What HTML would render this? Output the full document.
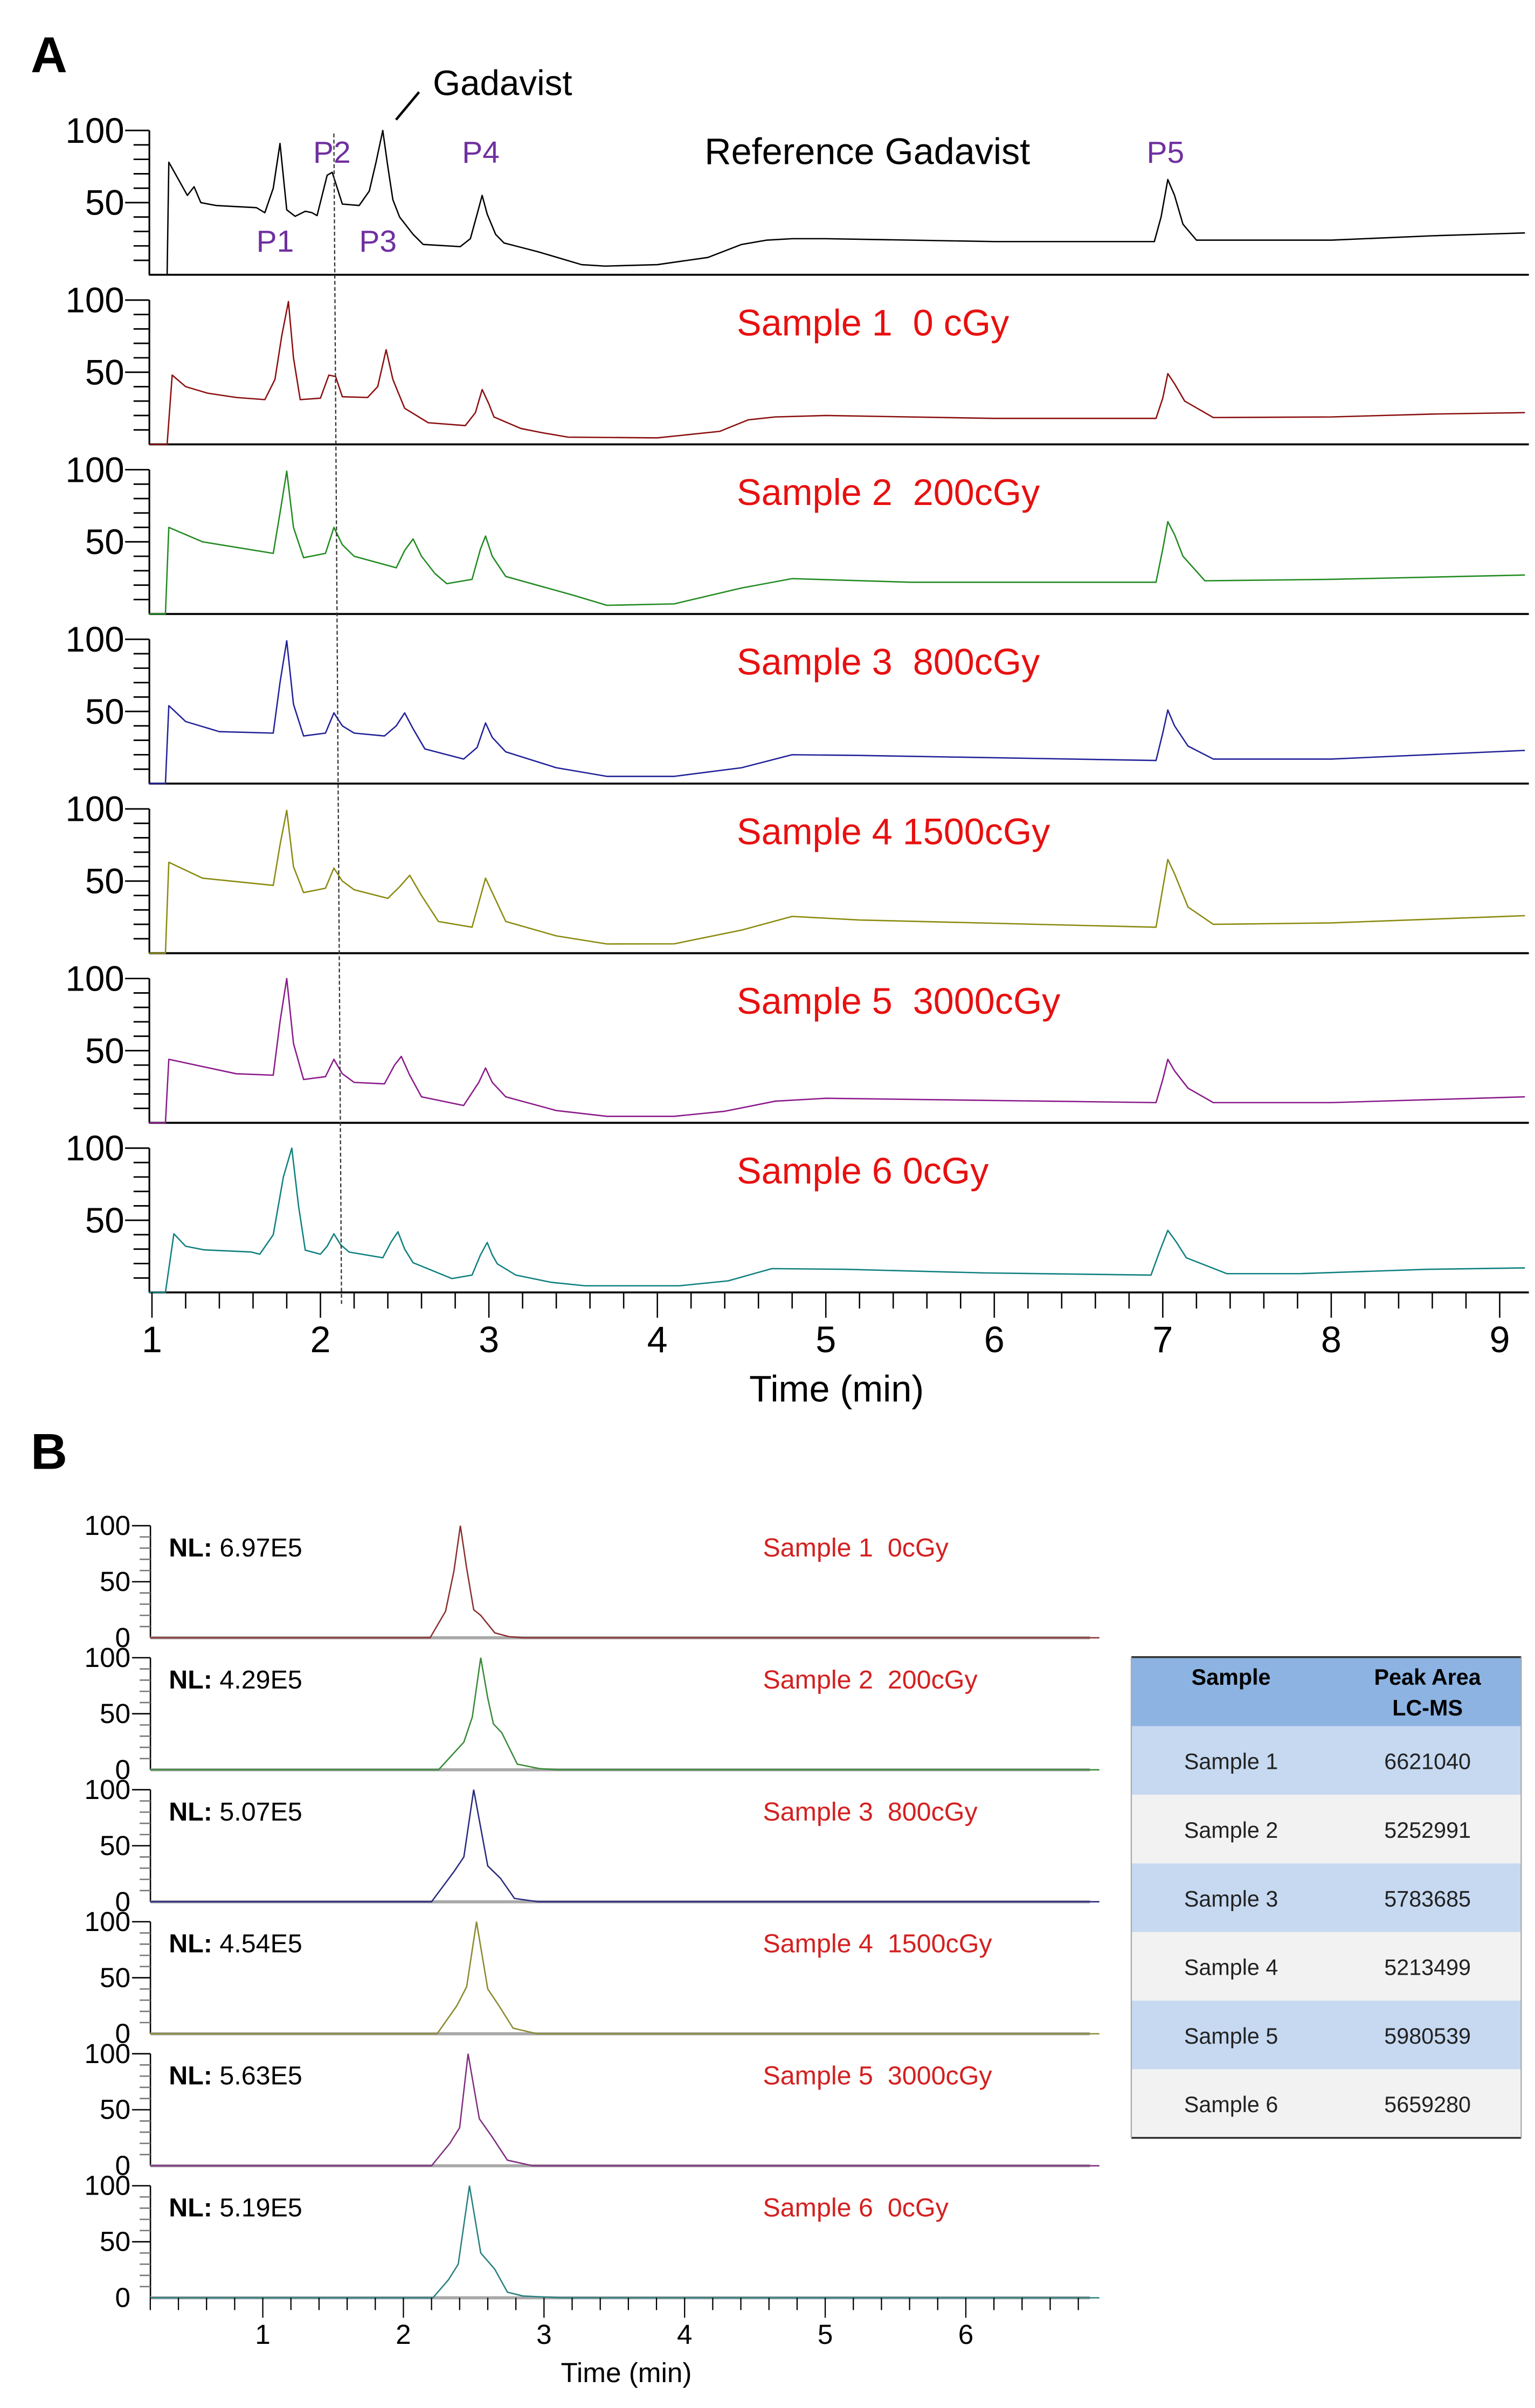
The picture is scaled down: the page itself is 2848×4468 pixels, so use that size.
<!DOCTYPE html>
<html><head><meta charset="utf-8"><style>
html,body{margin:0;padding:0;background:#fff;}
svg{display:block;}
text{font-family:"Liberation Sans",sans-serif;white-space:pre;}
</style></head>
<body>
<svg id="fig" xmlns="http://www.w3.org/2000/svg" width="2848" height="4468" viewBox="0 0 1000 1568.8" preserveAspectRatio="none">
<rect x="0" y="0" width="1000" height="1568.8" fill="#fff"/>
<g id="gA"></g>
<g id="gB"></g>
<g id="table"></g>
</svg>
<script>
// ---------- Panel A data (time in min, % intensity) ----------
const aNames = ["Reference Gadavist","Sample 1\u00a0\u00a00 cGy","Sample 2\u00a0\u00a0200cGy","Sample 3\u00a0\u00a0800cGy","Sample 4 1500cGy","Sample 5\u00a0\u00a03000cGy","Sample 6 0cGy"];
const aColors = ["#000000","#8b1010","#228b22","#22229a","#8b8b10","#8b1a8b","#108080"];
const refT = [0.98,1.09,1.10,1.21,1.25,1.29,1.38,1.62,1.67,1.72,1.76,1.80,1.85,1.91,1.95,1.98,2.04,2.07,2.10,2.13,2.23,2.29,2.33,2.37,2.40,2.43,2.47,2.55,2.61,2.83,2.89,2.93,2.96,2.99,3.04,3.09,3.19,3.29,3.55,3.69,4.0,4.3,4.5,4.65,4.8,5.0,6.0,6.95,6.99,7.03,7.07,7.12,7.2,8.0,8.6,9.15];
const refV = [0,0,78,55,61,50,48,46.5,43,60,91,45,40.5,44,43,41,69,71,60,49,48,58,78,100,75,52,40,28,21,19.5,25,42,55,42,28,22,19,16,7,6,7,12,21,24,25,25,23,23,40,66,55,35,24,24,27,29];
const s1T = [0.98,1.09,1.12,1.2,1.33,1.5,1.67,1.73,1.77,1.81,1.84,1.88,2.0,2.05,2.09,2.13,2.28,2.34,2.39,2.43,2.5,2.64,2.86,2.92,2.96,3.0,3.03,3.19,3.32,3.47,4.0,4.37,4.54,4.7,5.0,6.0,6.96,7.0,7.03,7.07,7.13,7.3,8.0,8.6,9.15];
const s1V = [0,0,48,40,35.5,32.5,31,45,75,99,60,31,32,48,47,33,32.5,40,65.6,45,25,15,13,22,38,28,19,11,8,5,4.5,9,17,19,20,18,18,32,49,42,30,18.6,19,21,22];
const s2T = [0.98,1.08,1.1,1.3,1.72,1.76,1.8,1.84,1.9,2.03,2.08,2.13,2.2,2.45,2.5,2.55,2.6,2.68,2.75,2.9,2.95,2.98,3.02,3.1,3.5,3.7,4.1,4.5,4.8,5.5,6.96,7.0,7.03,7.07,7.12,7.25,8.0,9.15];
const s2V = [0,0,60,50,42,70,99,60,39,42,60,48,40,32,44,52,40,28,21,24,45,54,40,26,13,6,7,18,24.5,22,22,45,64,55,40,23,24,27];
const s3T = [0.98,1.08,1.1,1.2,1.4,1.72,1.76,1.8,1.84,1.9,2.03,2.08,2.13,2.2,2.38,2.45,2.5,2.55,2.62,2.85,2.93,2.98,3.02,3.1,3.4,3.7,4.1,4.5,4.8,5.2,6.96,7.0,7.03,7.07,7.15,7.3,8.0,9.15];
const s3V = [0,0,54,43,36,35,70,99,55,33,35,49,40,35,33,40,49,38,24,17,25,42,32,22,11,5,5,11,20,19.5,16,35,51,40,26,17,17,23];
const s4T = [0.98,1.08,1.1,1.3,1.72,1.76,1.8,1.84,1.9,2.03,2.08,2.13,2.2,2.4,2.47,2.53,2.6,2.7,2.9,2.94,2.98,3.02,3.1,3.4,3.7,4.1,4.5,4.8,5.2,6.96,7.0,7.03,7.07,7.15,7.3,8.0,9.15];
const s4V = [0,0,63,52,47,75,99,60,42,45,59,50,44,38,46,54,40,22,18,35,52,42,22,12,6.4,6.5,16,25.5,23,18,45,65,55,32,20,21,26];
const s5T = [0.98,1.08,1.1,1.5,1.72,1.76,1.8,1.84,1.9,2.03,2.08,2.13,2.2,2.38,2.44,2.48,2.53,2.6,2.85,2.94,2.98,3.02,3.1,3.4,3.7,4.1,4.4,4.7,5.0,6.96,7.0,7.03,7.07,7.15,7.3,8.0,9.15];
const s5V = [0,0,44,34,33,70,100,55,30,32,44,34,28,27,40,46,33,18,12,28,38,28,18,8.5,4.5,4.5,8,15,17,14,30,44,36,24,14,14,18];
const s6T = [0.98,1.08,1.13,1.2,1.31,1.59,1.64,1.72,1.78,1.83,1.87,1.91,2.0,2.04,2.08,2.12,2.17,2.37,2.42,2.46,2.5,2.55,2.78,2.9,2.95,2.99,3.02,3.05,3.16,3.37,3.57,4.13,4.42,4.68,5.12,5.94,6.93,6.98,7.03,7.08,7.14,7.38,7.81,8.57,9.15];
const s6V = [0,0,40.6,32,29.5,28,26.5,40,80,100,60,29.3,26.5,32,40.6,33,28,24,35,42,30,20.6,9.6,12,26,34.6,26,19.8,12,7,4.6,4.6,8,16.5,16,13.5,12,28,43,35,24,13,13,16,17];
const aXTicks = ["1","2","3","4","5","6","7","8","9"];
const aYTicks = ["100","50"];
const peakLabels = ["P1","P2","P3","P4","P5"];

// ---------- Panel B data ----------
const bNL = ["6.97E5","4.29E5","5.07E5","4.54E5","5.63E5","5.19E5"];
const bNames = ["Sample 1\u00a0\u00a00cGy","Sample 2\u00a0\u00a0200cGy","Sample 3\u00a0\u00a0800cGy","Sample 4\u00a0\u00a01500cGy","Sample 5\u00a0\u00a03000cGy","Sample 6\u00a0\u00a00cGy"];
const bColors = ["#8b3030","#3a8a3a","#2a2a80","#8a8a30","#803080","#2a8080"];
const b1T = [0.2,2.19,2.30,2.36,2.405,2.45,2.5,2.55,2.65,2.75,2.85,6.95];
const b1V = [0,0,23.7,60,100,62,25,20,4.4,1,0,0];
const b2T = [0.2,2.25,2.43,2.49,2.55,2.6,2.64,2.7,2.81,2.97,3.1,6.95];
const b2V = [0,0,24.7,47,100,64,41,33,5,1,0,0];
const b3T = [0.2,2.2,2.36,2.43,2.5,2.6,2.69,2.79,2.96,6.95];
const b3V = [0,0,27,40,100,32,21,3,0,0];
const b4T = [0.2,2.24,2.38,2.45,2.52,2.6,2.68,2.78,2.95,6.95];
const b4V = [0,0,25,42,100,40,25,5,0,0];
const b5T = [0.2,2.2,2.33,2.4,2.46,2.54,2.63,2.74,2.92,6.95];
const b5V = [0,0,20,34,100,42,26,5,0,0];
const b6T = [0.2,2.21,2.32,2.39,2.47,2.55,2.65,2.74,2.85,3.12,6.95];
const b6V = [0,0,16,30,100,40,25.5,5,1.6,0,0];
const bXTicks = ["1","2","3","4","5","6"];
const bYTicks = ["100","50","0"];

// ---------- Table data ----------
const tblSamples = ["Sample 1","Sample 2","Sample 3","Sample 4","Sample 5","Sample 6"];
const tblAreas = ["6621040","5252991","5783685","5213499","5980539","5659280"];

const NS = "http://www.w3.org/2000/svg";
function mk(tag, attrs, parent, txt){
  const e = document.createElementNS(NS, tag);
  for (const k in attrs) e.setAttribute(k, attrs[k]);
  if (txt !== undefined) e.textContent = txt;
  parent.appendChild(e);
  return e;
}

// ===== Panel A =====
const gA = document.getElementById('gA');
const xA = t => 99 + (t - 1) * 109.75;
const botA = i => 179 + i * 110.5;
const yA = (i, v) => botA(i) - v * 0.94;
const aSeries = [[refT,refV],[s1T,s1V],[s2T,s2V],[s3T,s3V],[s4T,s4V],[s5T,s5V],[s6T,s6V]];

let lbl = mk('text',{x:20,y:47,'font-size':33,'font-weight':'bold'},gA,'A');



for (let i = 0; i < 7; i++) {
  const b = botA(i);
  const g = mk('g',{},gA);
  
  
  let ax = mk('line',{x1:97.3,y1:yA(i,100),x2:97.3,y2:b,stroke:'#000','stroke-width':1.1},g);
  
  
  for (let v = 10; v <= 100; v += 10) {
    const major = (v === 50 || v === 100);
    mk('line',{x1: major ? 81.5 : 87, y1: yA(i,v), x2: 97.3, y2: yA(i,v), stroke:'#000','stroke-width':1},g);
  }
  aYTicks.forEach(s => {
    const tt = mk('text',{x:81,y:yA(i,+s)+8,'font-size':23,'text-anchor':'end'},g,s);
    
    
  });
  let bx = mk('line',{x1:97.3,y1:b,x2:996,y2:b,stroke:'#000','stroke-width':1.3},g);
  
  
  const [T,V] = aSeries[i];
  const pts = T.map((t,k) => xA(t).toFixed(2) + ',' + yA(i,V[k]).toFixed(2)).join(' ');
  const pl = mk('polyline',{points:pts,fill:'none',stroke:aColors[i],'stroke-width':0.9,'stroke-linejoin':'round'},g);
  
  
  const nt = mk('text',{x: i === 0 ? 459 : 480, y: i === 0 ? b - 72 : b - 71, 'font-size':24, fill: i === 0 ? '#000' : '#e81010'},g,aNames[i]);
  
  
}
const lastB = botA(6);
for (let k = 0; k <= 40; k++) {
  const t = 1 + k * 0.2;
  if (t > 9.15) break;
  const major = (k % 5 === 0);
  mk('line',{x1:xA(t),y1:lastB,x2:xA(t),y2:lastB + (major ? 16.5 : 10.5),stroke:'#000','stroke-width':0.9},gA);
}
aXTicks.forEach(s => {
  const tt = mk('text',{x:xA(+s),y:881,'font-size':24,'text-anchor':'middle'},gA,s);
  
  
});
let xt = mk('text',{x:545,y:913,'font-size':24,'text-anchor':'middle'},gA,'Time (min)');


let dl = mk('line',{x1:217.5,y1:87,x2:222.5,y2:850,stroke:'#333','stroke-width':0.8,'stroke-dasharray':'2.5,1.5'},gA);


const peakPos = [[167,164],[204,106],[234,164],[301,106],[747,106]];
peakLabels.forEach((p,k) => {
  const tt = mk('text',{x:peakPos[k][0],y:peakPos[k][1],'font-size':20,fill:'#7030a0'},gA,p);
  
  
});
let gd = mk('text',{x:282,y:62,'font-size':23},gA,'Gadavist');


mk('line',{x1:258,y1:78,x2:273,y2:60,stroke:'#000','stroke-width':1.6},gA);

// ===== Panel B =====
const gB = document.getElementById('gB');
const xB = t => 79.6 + t * 91.6;
const botB = i => 1067 + i * 86;
const yB = (i, v) => botB(i) - v * 0.73;
const bSeries = [[b1T,b1V],[b2T,b2V],[b3T,b3V],[b4T,b4V],[b5T,b5V],[b6T,b6V]];
lbl = mk('text',{x:20,y:957,'font-size':33,'font-weight':'bold'},gB,'B');


for (let i = 0; i < 6; i++) {
  const b = botB(i);
  const g = mk('g',{},gB);
  
  
  mk('line',{x1:98,y1:yB(i,100),x2:98,y2:b,stroke:'#000','stroke-width':0.9},g);
  for (let v = 10; v <= 100; v += 10) {
    const major = (v === 50 || v === 100);
    mk('line',{x1: major ? 86 : 91, y1: yB(i,v), x2: 98, y2: yB(i,v), stroke: major ? '#000' : '#777','stroke-width':0.9},g);
  }
  bYTicks.forEach(s => {
    const tt = mk('text',{x:85,y:yB(i,+s)+6,'font-size':18,'text-anchor':'end'},g,s);
    
    
  });
  mk('line',{x1:98,y1:b,x2:710,y2:b,stroke:'#a8a8a8','stroke-width':2},g);
  const [T,V] = bSeries[i];
  const pts = T.map((t,k) => xB(t).toFixed(2) + ',' + yB(i,V[k]).toFixed(2)).join(' ');
  const pl = mk('polyline',{points:pts,fill:'none',stroke:bColors[i],'stroke-width':0.9},g);
  
  
  const nl = mk('text',{x:110,y:b-53,'font-size':17},g);
  
  
  mk('tspan',{'font-weight':'bold'},nl,'NL:');
  mk('tspan',{},nl,' ' + bNL[i]);
  const nm = mk('text',{x:497,y:b-53,'font-size':17,fill:'#d42020'},g,bNames[i]);
  
  
}
const lb = botB(5);
for (let k = 1; k <= 34; k++) {
  const t = k * 0.2;
  if (xB(t) > 712) break;
  const major = (k % 5 === 0);
  mk('line',{x1:xB(t),y1:lb,x2:xB(t),y2:lb + (major ? 13 : 8),stroke:'#000','stroke-width':0.8},gB);
}
bXTicks.forEach(s => {
  const tt = mk('text',{x:xB(+s),y:1527,'font-size':18,'text-anchor':'middle'},gB,s);
  
  
});
xt = mk('text',{x:408,y:1552,'font-size':18,'text-anchor':'middle'},gB,'Time (min)');



// ===== Table =====
const tg = document.getElementById('table');
const tx0 = 737, tx1 = 991, ty0 = 1079.6, hh = 45, rh = 44.7;
mk('rect',{x:tx0,y:ty0,width:tx1-tx0,height:hh,fill:'#8db3e2'},tg);
let h1 = mk('text',{x:802,y:ty0+18,'font-size':14.5,'font-weight':'bold','text-anchor':'middle'},tg,'Sample');


let h2 = mk('text',{x:930,y:ty0+18,'font-size':14.5,'font-weight':'bold','text-anchor':'middle'},tg,'Peak Area');


mk('text',{x:930,y:ty0+38,'font-size':14.5,'font-weight':'bold','text-anchor':'middle'},tg,'LC-MS');
tblSamples.forEach((s,k) => {
  const y = ty0 + hh + k * rh;
  const r = mk('rect',{x:tx0,y:y,width:tx1-tx0,height:rh,fill: k % 2 === 0 ? '#c6d9f1' : '#f2f2f2'},tg);
  
  
  mk('text',{x:802,y:y+28,'font-size':14.5,'text-anchor':'middle',fill:'#222'},tg,s);
  mk('text',{x:930,y:y+28,'font-size':14.5,'text-anchor':'middle',fill:'#222'},tg,tblAreas[k]);
});
mk('line',{x1:tx0,y1:ty0,x2:tx1,y2:ty0,stroke:'#333','stroke-width':1.2},tg);
const tyEnd = ty0 + hh + 6 * rh;
mk('line',{x1:tx0,y1:tyEnd,x2:tx1,y2:tyEnd,stroke:'#333','stroke-width':1.2},tg);
mk('line',{x1:tx0,y1:ty0,x2:tx0,y2:tyEnd,stroke:'#aaa','stroke-width':0.8},tg);
mk('line',{x1:tx1,y1:ty0,x2:tx1,y2:tyEnd,stroke:'#aaa','stroke-width':0.8},tg);
</script>
</body></html>
